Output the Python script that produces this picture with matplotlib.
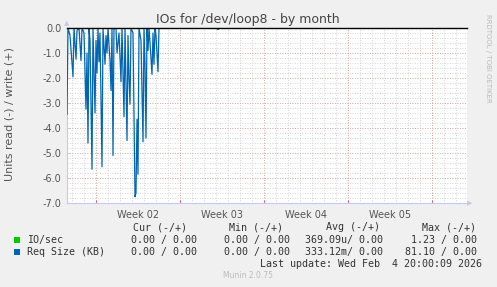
import numpy as np
import matplotlib.pyplot as plt

# hours relative to Mon Jan 5 2026 00:00 (start of Week 02)
hours = [-58, -56, -52, -46, -44, -40, -38, -34, -30, -28, -24, -20, -18, -16, -14, -12,
         -8, -6, -2, 0, 2, 4, 6, 8, 12, 14, 18, 20, 22, 24, 28, 30, 32, 34, 36, 40,
         42, 46, 50, 52, 56, 58, 62, 64, 66, 68, 70, 74, 78, 80, 82, 84, 86, 90,
         94, 96, 98, 100, 102, 104, 106, 108, 112, 114, 116, 118, 120, 124, 126, 128,
         240, 244, 248, 742]
read_vals = [-3.45, 0, -0.3, -1.95, 0, -1.25, -0.1, 0, -1.3, 0, -0.2, -3.25, -1.0, -4.6, 0, -0.5,
             -5.65, 0, -3.4, -0.5, -1.8, 0, -1.35, -0.2, -5.55, 0, -1.45, -0.3, -1.0, 0, -1.3, -2.5, 0, -5.1, 0, 0,
             -1.0, -0.2, -2.15, 0, -3.55, 0, -4.5, -0.3, -2.0, -3.05, 0, -0.2, -6.75, -6.6, -3.65, -5.85, 0, -0.5,
             -4.55, 0, -1.5, -4.4, 0, -0.9, 0, -0.6, -1.85, -0.2, -1.45, 0, -0.3, -1.75, 0, 0,
             0, -0.06, 0, 0]

week_labels = ['Week 02', 'Week 03', 'Week 04', 'Week 05']
y_ticks = [0.0, -1.0, -2.0, -3.0, -4.0, -5.0, -6.0, -7.0]

legend_names = ['IO/sec', 'Req Size (KB)']
legend_colors = ['#00cc00', '#0066b3']
cur_vals = ['0.00 / 0.00', '0.00 / 0.00']
min_vals = ['0.00 / 0.00', '0.00 / 0.00']
avg_vals = ['369.09u/ 0.00', '333.12m/ 0.00']
max_vals = ['1.23 / 0.00', '81.10 / 0.00']

W, H = 497, 287
fig = plt.figure(figsize=(W / 100, H / 100), dpi=100, facecolor='#f0f0f0')
ax = fig.add_axes([67 / W, (H - 203) / H, 400 / W, 175 / H])
ax.set_facecolor('white')

x_min, x_max = -58, 742
ax.set_xlim(x_min, x_max)
ax.set_ylim(-7, 0)

# grid: daily / 0.2 minor, weekly / 1.0 major
for d in range(-48, x_max, 24):
    ax.axvline(d, color='#c8c8c8', lw=0.6, ls=(0, (1, 2)), zorder=0)
for v in np.arange(-7, 0.01, 0.2):
    ax.axhline(v, color='#c8c8c8', lw=0.6, ls=(0, (1, 2)), zorder=0)
for d in range(0, x_max, 168):
    ax.axvline(d, color='#e0a0a0', lw=0.6, ls=(0, (1, 2)), zorder=0)
for v in y_ticks:
    ax.axhline(v, color='#e0a0a0', lw=0.6, ls=(0, (1, 2)), zorder=0)

ax.plot(hours, read_vals, color='#0066b3', lw=0.9, zorder=3)
ax.axhline(0, color='black', lw=1.0, zorder=4, clip_on=False)

for s in ['top', 'right']:
    ax.spines[s].set_visible(False)
for s in ['left', 'bottom']:
    ax.spines[s].set_color('#c8c8f0')
    ax.spines[s].set_linewidth(0.8)

ax.set_yticks(y_ticks)
ax.set_yticklabels(['%.1f' % v for v in y_ticks], fontsize=7, color='#555555')
ax.set_xticks(range(0, x_max, 168))
ax.set_xticklabels([])
ax.tick_params(axis='x', length=2, color='#e07070', direction='in')
ax.tick_params(axis='y', length=2, color='#c8c8f0', direction='in', pad=4)
for i, lab in enumerate(week_labels):
    ax.text(84 + 168 * i, -7.28, lab, ha='center', va='top', fontsize=7, color='#555555')

# axis arrows
fig.text(67 / W, 1 - 23 / H, '\u25b2', fontsize=5, color='#c8c8f0', ha='center', va='center')
fig.text(470 / W, 1 - 203 / H, '\u25b6', fontsize=5, color='#c8c8f0', ha='center', va='center')

fig.text(248 / W, 1 - 19 / H, 'IOs for /dev/loop8 - by month', fontsize=9, color='#444444',
         ha='center', va='center')
fig.text(10 / W, 1 - 114 / H, 'Units read (-) / write (+)', fontsize=8, color='#555555',
         rotation=90, ha='center', va='center')
fig.text(488 / W, 1 - 58 / H, 'RRDTOOL / TOBI OETIKER', fontsize=5, color='#bbbbbb',
         rotation=270, ha='center', va='center')

mono = 'DejaVu Sans Mono'
fs = 7.2
col = '#333333'
fig.text(187 / W, 1 - 227 / H, 'Cur (-/+)', family=mono, fontsize=fs, color=col, ha='right', va='center')
fig.text(283 / W, 1 - 227 / H, 'Min (-/+)', family=mono, fontsize=fs, color=col, ha='right', va='center')
fig.text(380 / W, 1 - 227 / H, 'Avg (-/+)', family=mono, fontsize=fs, color=col, ha='right', va='center')
fig.text(476 / W, 1 - 227 / H, 'Max (-/+)', family=mono, fontsize=fs, color=col, ha='right', va='center')

row_y = [240, 252]
for i in range(2):
    y = 1 - row_y[i] / H
    fig.patches.append(plt.Rectangle((14 / W, y - 3 / H), 6 / W, 6 / H, transform=fig.transFigure,
                                     facecolor=legend_colors[i], edgecolor='none'))
    fig.text(27 / W, y, legend_names[i], family=mono, fontsize=fs, color=col, ha='left', va='center')
    fig.text(197 / W, y, cur_vals[i], family=mono, fontsize=fs, color=col, ha='right', va='center')
    fig.text(290 / W, y, min_vals[i], family=mono, fontsize=fs, color=col, ha='right', va='center')
    fig.text(383 / W, y, avg_vals[i], family=mono, fontsize=fs, color=col, ha='right', va='center')
    fig.text(477 / W, y, max_vals[i], family=mono, fontsize=fs, color=col, ha='right', va='center')

fig.text(482 / W, 1 - 264 / H, 'Last update: Wed Feb  4 20:00:09 2026', family=mono, fontsize=fs,
         color=col, ha='right', va='center')
fig.text(248 / W, 1 - 276 / H, 'Munin 2.0.75', fontsize=5.5, color='#bbbbbb', ha='center', va='center')

fig.savefig('out.png', dpi=100, facecolor=fig.get_facecolor())
